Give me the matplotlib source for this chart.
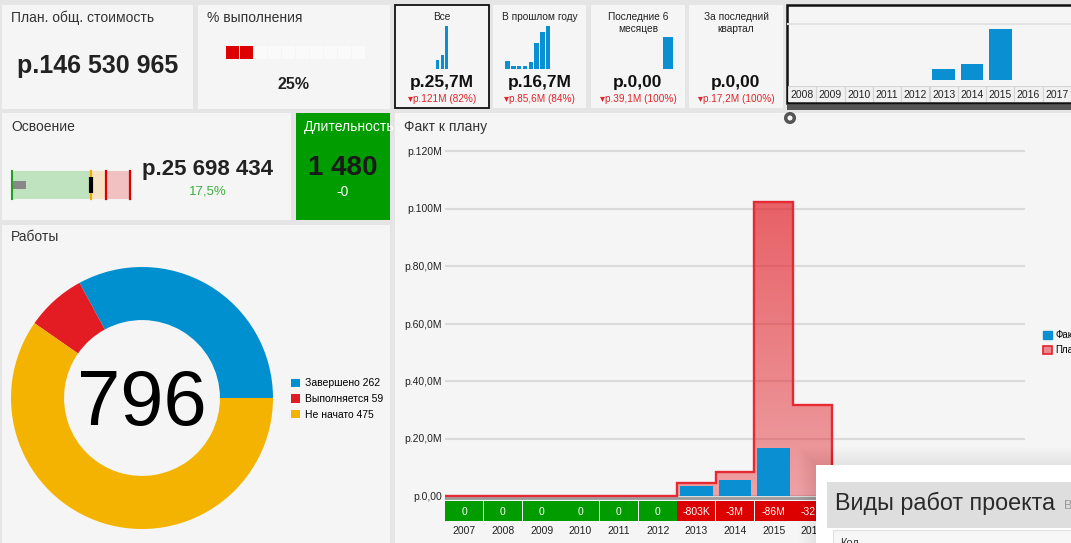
import matplotlib
matplotlib.use('Agg')
import matplotlib.pyplot as plt
import matplotlib.patches as mpatches
import numpy as np

plt.rcParams['font.family'] = ['Liberation Sans', 'DejaVu Sans']

W, H = 1071, 543
PANEL = '#f5f5f5'
BLUE = '#0a8fd2'
RED_LINE = '#e8202a'
GREEN = '#009c00'
TEXT = '#333333'

# project totals, rubles
plan_total = 146530965
fact_total = 25698434
completion_pct = 25
duration_days = 1480
duration_delta = '-0'

# yearly amounts, millions of rubles
years = [2007, 2008, 2009, 2010, 2011, 2012, 2013, 2014, 2015, 2016]
fact = [0, 0, 0, 0, 0, 0, 3.6, 5.4, 16.7, 0]
plan = [0, 0, 0, 0, 0, 0, 4.403, 8.3, 102.3, 31.53]
ytick_values = [0, 20, 40, 60, 80, 100, 120]
ytick_labels = ['р.0,00', 'р.20,0M', 'р.40,0M', 'р.60,0M', 'р.80,0M', 'р.100M', 'р.120M']

timeline_years = list(range(2008, 2019))

work_labels = ['Завершено', 'Выполняется', 'Не начато']
work_counts = [262, 59, 475]
work_colors = ['#0090cf', '#e31c23', '#f3b300']

tile_titles = ['Все', 'В прошлом году', 'Последние 6\nмесяцев', 'За последний\nквартал']
tile_values = ['р.25,7M', 'р.16,7M', 'р.0,00', 'р.0,00']
tile_deltas = ['р.121M (82%)', 'р.85,6M (84%)', 'р.39,1M (100%)', 'р.17,2M (100%)']
tile_sparks = [[3.6, 5.4, 16.7],
               [3.1, 1.2, 1.2, 1.2, 2.7, 10.1, 14.4, 16.7],
               [12.4],
               []]


def rub(v):
    return 'р.' + f'{v:,}'.replace(',', ' ')


def short_diff(v):
    if abs(v) < 1e-9:
        return '0'
    a = abs(v)
    if a < 1:
        return f'-{round(a * 1000)}K'
    return f'-{round(a)}M'


fig = plt.figure(figsize=(W / 100, H / 100), dpi=100, facecolor='#e5e5e5')


def px_axes(x0, y0, x1, y1):
    return fig.add_axes([x0 / W, 1 - y1 / H, (x1 - x0) / W, (y1 - y0) / H])


# background layer in pixel units, origin top-left
bg = fig.add_axes([0, 0, 1, 1])
bg.set_xlim(0, W)
bg.set_ylim(H, 0)
bg.axis('off')


def panel(x0, y0, x1, y1, color=PANEL, edge='none', lw=0):
    r = mpatches.Rectangle((x0, y0), x1 - x0, y1 - y0, facecolor=color,
                           edgecolor=edge, linewidth=lw)
    bg.add_patch(r)
    return r


def label(x, y, s, size=10, color=TEXT, **kw):
    return bg.text(x, y, s, fontsize=size, color=color, va='baseline', **kw)


# ---- top row ----
panel(2, 5, 193, 109)
label(11, 22, 'План. общ. стоимость')
label(98, 73, rub(plan_total), size=18, color='#222222', ha='center', weight='bold')

panel(198, 5, 390, 109)
label(207, 22, '% выполнения')
filled = completion_pct // 10
for i in range(10):
    bg.add_patch(mpatches.Rectangle((226 + 14 * i, 46), 13, 13, linewidth=0,
                                    facecolor='#dd0000' if i < filled else '#fafafa'))
label(294, 89, f'{completion_pct}%', size=11.5, color='#222222', ha='center', weight='bold')

tile_x = [(395, 489), (493, 586), (591, 685), (689, 783)]
spark_x = [(435.5, 449), (504.6, 551.2), (663, 673), None]
spark_max = max(tile_sparks[0])
for k, (x0, x1) in enumerate(tile_x):
    if k == 0:
        panel(x0, 5, x1, 108, edge='#111111', lw=1.3)
    else:
        panel(x0, 5, x1, 108)
    cx = (x0 + x1) / 2
    for j, line in enumerate(tile_titles[k].split('\n')):
        label(cx, 20 + 11.5 * j, line, size=7.3, color='#222222', ha='center')
    label(cx, 87, tile_values[k], size=12.5, color='#111111', ha='center', weight='bold')
    label(cx, 102, '▾' + tile_deltas[k], size=7.2, color='#e0262b', ha='center')
    vals = tile_sparks[k]
    if vals:
        sx0, sx1 = spark_x[k]
        sa = px_axes(sx0, 26, sx1, 69)
        sa.bar(range(len(vals)), vals, width=0.75 if len(vals) > 1 else 1.0,
               color=BLUE, linewidth=0)
        sa.set_xlim(-0.5, len(vals) - 0.5)
        sa.set_ylim(0, spark_max)
        sa.axis('off')

# timeline selector
panel(787, 5, 1076, 103, edge='#111111', lw=1.8)
panel(787, 105, 1071, 110, color='#555555')
tl_vals = [fact[years.index(y)] if y in years else 0 for y in timeline_years]
tl_w = 28.3
ta = px_axes(788, 24, 788 + tl_w * len(timeline_years), 80)
ta.bar(range(len(timeline_years)), tl_vals, width=0.8, color=BLUE, linewidth=0)
ta.set_xlim(-0.5, len(timeline_years) - 0.5)
ta.set_ylim(0, 56 / 3.05)
ta.axhline(56 / 3.05, color='#e2e2e2', lw=1.5, clip_on=False)
ta.axis('off')
tc = px_axes(788, 86, 788 + tl_w * len(timeline_years), 102)
tc.bar(range(len(timeline_years)), [1] * len(timeline_years), width=1,
       facecolor='#f1f1f1', edgecolor='#d4d4d4', linewidth=0.8)
for i, y in enumerate(timeline_years):
    tc.text(i, 0.45, str(y), fontsize=7.5, color='#222222', ha='center', va='center')
tc.set_xlim(-0.5, len(timeline_years) - 0.5)
tc.set_ylim(0, 1)
tc.axis('off')

# ---- second row: budget bullet and duration ----
panel(2, 113, 291, 220)
label(11, 131, 'Освоение')
ba = px_axes(12, 171, 130, 199)
ba.barh(0.5, plan_total, height=1, color='#bfe2bf', linewidth=0)
ba.barh(0.5, 0.2 * plan_total, left=plan_total, height=1, color='#f6e3c4', linewidth=0)
ba.barh(0.5, 0.3 * plan_total, left=1.2 * plan_total, height=1, color='#f1c1c1', linewidth=0)
ba.axvline(0, color='#22a022', lw=1.5, clip_on=False)
ba.axvline(plan_total, color='#f2a900', lw=1.6, clip_on=False)
ba.axvline(1.2 * plan_total, color='#dd0000', lw=1.6, clip_on=False)
ba.axvline(1.5 * plan_total, color='#dd0000', lw=1.6, clip_on=False)
ba.barh(0.5, fact_total, height=0.31, color='#888888', linewidth=0)
ba.plot([plan_total, plan_total], [0.2, 0.8], color='black', lw=3, solid_capstyle='butt')
ba.set_xlim(0, 1.5 * plan_total)
ba.set_ylim(0, 1)
ba.axis('off')
label(208, 175, rub(fact_total), size=16, color='#222222', ha='center', weight='bold')
pct = f'{fact_total / plan_total * 100:.1f}%'.replace('.', ',')
label(208, 194, pct, size=9.5, color='#3cae3c', ha='center')

gp = panel(296, 113, 390, 220, color=GREEN)
t = label(304, 131, 'Длительность', color='white')
t.set_clip_path(gp)
label(343, 175, f'{duration_days:,}'.replace(',', ' '), size=20, color='#1a1a1a',
      ha='center', weight='bold')
label(343, 196, duration_delta, size=10, color='white', ha='center')

# ---- works donut ----
panel(2, 225, 390, 545)
label(11, 241, 'Работы')
da = px_axes(11, 267, 273, 529)
wedges, _ = da.pie(work_counts, colors=work_colors, startangle=0, counterclock=True,
                   radius=1, wedgeprops=dict(width=0.405, linewidth=0))
da.set_xlim(-1, 1)
da.set_ylim(-1, 1)
label(142, 425, str(sum(work_counts)), size=56, color='black', ha='center')
da.legend(wedges, [f'{n} {c}' for n, c in zip(work_labels, work_counts)],
          loc='center left', bbox_to_anchor=(291 / W, 1 - 399 / H),
          bbox_transform=fig.transFigure, frameon=False, fontsize=7.5,
          handlelength=0.85, handleheight=0.85, handletextpad=0.45,
          labelspacing=0.55, borderpad=0, borderaxespad=0)

# ---- fact vs plan chart ----
panel(395, 113, 1076, 545)
label(404, 131, 'Факт к плану')
px_per_m = 345 / 120
n_slots = 15
x = np.arange(len(years))
edges = np.arange(len(years) + 1) - 0.5

ax = px_axes(445, 140, 1025, 500)
ax.set_facecolor('none')
clip = ax.stairs(plan, edges, baseline=0, fill=True, facecolor='none', edgecolor='none')
grad = np.linspace(0, 1, 256)
rgba = np.zeros((256, 1, 4))
rgba[..., 0] = 0.89
rgba[..., 1] = 0.14
rgba[..., 2] = 0.17
rgba[..., 3] = (0.40 + 0.31 * grad)[:, None]
img = ax.imshow(rgba, extent=[-0.5, len(years) - 0.5, 0, max(plan)], origin='lower',
                aspect='auto', zorder=2)
img.set_clip_path(clip)
ax.axhline(-0.6, color='#9a9a9a', lw=2, zorder=2.5)
ax.stairs(plan, edges, baseline=0, color='#e62a33', lw=1.7, zorder=4)
ax.bar(x, fact, width=0.85, color=BLUE, linewidth=0, zorder=3)
ax.set_xlim(-0.5, n_slots - 0.5)
ax.set_ylim(-4 / px_per_m, 120 + 11 / px_per_m)
ax.set_yticks(ytick_values)
ax.set_yticklabels(ytick_labels)
ax.set_xticks([])
ax.yaxis.grid(True, color='#dadada', lw=1.5)
ax.set_axisbelow(True)
ax.tick_params(axis='y', length=0, pad=2, labelsize=7.5, labelcolor='#222222')
for s in ax.spines.values():
    s.set_visible(False)

ca = px_axes(445, 501, 1025, 521)
diffs = [f - p for f, p in zip(fact, plan)]
ca.bar(x, [1] * len(years), width=0.975, linewidth=0,
       color=[GREEN if abs(d) < 1e-9 else '#dd0000' for d in diffs])
for i, d in enumerate(diffs):
    ca.text(i, 0.47, short_diff(d), fontsize=7.5, color='white', ha='center', va='center')
ca.set_xlim(-0.5, n_slots - 0.5)
ca.set_ylim(0, 1)
ca.set_xticks(x)
ca.set_xticklabels([str(y) for y in years])
ca.set_yticks([])
ca.tick_params(axis='x', length=0, pad=3.5, labelsize=7.5, labelcolor='#222222')
ca.set_facecolor('none')
for s in ca.spines.values():
    s.set_visible(False)

fig.legend([mpatches.Patch(facecolor=BLUE, edgecolor=BLUE),
            mpatches.Patch(facecolor='#eb8a8d', edgecolor=RED_LINE, linewidth=1.2)],
           ['Факт', 'План'], loc='upper left', bbox_to_anchor=(1043 / W, 1 - 330 / H),
           frameon=False, fontsize=7, handlelength=0.9, handleheight=0.9,
           handletextpad=0.35, labelspacing=0.55, borderpad=0, borderaxespad=0)

# ---- overlay: selector handle and work types popup ----
ov = fig.add_axes([0, 0, 1, 1])
ov.set_xlim(0, W)
ov.set_ylim(H, 0)
ov.axis('off')
ov.add_patch(mpatches.Circle((790, 118), 4.3, facecolor=PANEL, edgecolor='#555555', linewidth=2.5))
for i in range(18, 0, -1):
    ov.add_patch(mpatches.Rectangle((816 - i, 465 - i), 400, 200, facecolor='black',
                                    alpha=0.005, linewidth=0))
ov.add_patch(mpatches.Rectangle((816, 465), 400, 200, facecolor='white', linewidth=0))
ov.add_patch(mpatches.Rectangle((827, 482), 400, 46, facecolor='#dedede', linewidth=0))
ov.add_patch(mpatches.Rectangle((833, 530), 400, 40, facecolor='#f7f7f7',
                                edgecolor='#e2e2e2', linewidth=0.8))
ov.text(835, 510, 'Виды работ проекта', fontsize=16.8, color='#2a2a2a', va='baseline')
ov.text(1064, 509, 'В', fontsize=9, color='#9a9a9a', va='baseline')
ov.text(840, 546, 'Код', fontsize=8, color='#333333', va='baseline')

fig.savefig('out.png', dpi=100, facecolor=fig.get_facecolor())
